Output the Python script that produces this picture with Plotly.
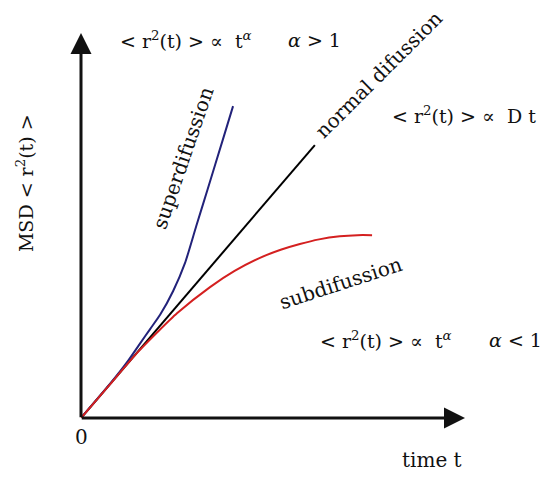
import plotly.graph_objects as go

# data (arbitrary units: t 0..10, MSD 0..10)
normal_t = [0, 6.09]
normal_msd = [0, 7.09]

super_t = [0, 0.76, 1.20, 1.54, 1.80, 2.06, 2.40, 2.71, 3.00, 3.30, 3.70, 3.96]
super_msd = [0, 0.89, 1.45, 1.94, 2.31, 2.68, 3.30, 4.03, 4.98, 5.95, 7.25, 8.10]

sub_t = [0, 0.76, 1.46, 2.00, 2.50, 3.36, 4.00, 4.66, 5.20, 5.70, 6.20, 6.74, 7.20, 7.58]
sub_msd = [0, 0.88, 1.69, 2.24, 2.72, 3.40, 3.82, 4.16, 4.37, 4.52, 4.64, 4.72, 4.75, 4.75]

FONT = "DejaVu Serif"

fig = go.Figure()
fig.add_trace(go.Scatter(x=normal_t, y=normal_msd, mode="lines",
                         line=dict(color="black", width=2), hoverinfo="skip"))
fig.add_trace(go.Scatter(x=super_t, y=super_msd, mode="lines",
                         line=dict(color="#22227a", width=2, shape="spline", smoothing=0.6),
                         hoverinfo="skip"))
fig.add_trace(go.Scatter(x=sub_t, y=sub_msd, mode="lines",
                         line=dict(color="#d42020", width=2, shape="spline", smoothing=0.6),
                         hoverinfo="skip"))

ann = []
# axes arrows
ann.append(dict(x=10, y=0, ax=-0.02, ay=0, xref="x", yref="y", axref="x", ayref="y",
                showarrow=True, arrowhead=2, arrowsize=1.4, arrowwidth=3, arrowcolor="#111", text=""))
ann.append(dict(x=0, y=10, ax=0, ay=-0.02, xref="x", yref="y", axref="x", ayref="y",
                showarrow=True, arrowhead=2, arrowsize=1.4, arrowwidth=3, arrowcolor="#111", text=""))


def txt(x, y, s, size=20, angle=0, xanchor="center", color="#111"):
    ann.append(dict(x=x / 10, y=y / 10, xref="paper", yref="paper", text=s, showarrow=False,
                    textangle=angle, xanchor=xanchor, yanchor="middle",
                    font=dict(family=FONT, size=size, color=color)))


txt(0.96, 9.82, "&lt; r<sup>2</sup>(t) &gt; ∝ &nbsp;t<sup><i>α</i></sup>", size=19, xanchor="left")
txt(5.35, 9.82, "<i>α</i> &gt; 1", size=19, xanchor="left")
txt(8.05, 7.87, "&lt; r<sup>2</sup>(t) &gt; ∝ &nbsp;D t", size=19, xanchor="left")
txt(6.17, 2.03, "&lt; r<sup>2</sup>(t) &gt; ∝ &nbsp;t<sup><i>α</i></sup>", size=19, xanchor="left")
txt(10.57, 2.03, "<i>α</i> &lt; 1", size=19, xanchor="left")
txt(7.77, 8.93, "normal difussion", angle=-45)
txt(2.66, 6.75, "superdifussion", angle=-71)
txt(6.77, 3.51, "subdifussion", angle=-18)
txt(0.0, -0.49, "0")
txt(9.14, -1.09, "time t")
txt(-1.46, 6.10, "MSD &lt; r<sup>2</sup>(t) &gt;", size=19, angle=-90)

# page body has an 8px margin, so the figure is sized to fit the 550x483 window
fig.update_layout(
    width=542, height=475,
    margin=dict(l=73, r=85, t=25, b=65),
    paper_bgcolor="white", plot_bgcolor="white",
    showlegend=False,
    xaxis=dict(range=[0, 10], visible=False, fixedrange=True),
    yaxis=dict(range=[0, 10], visible=False, fixedrange=True),
    annotations=ann,
)
fig.write_html("out.html")
